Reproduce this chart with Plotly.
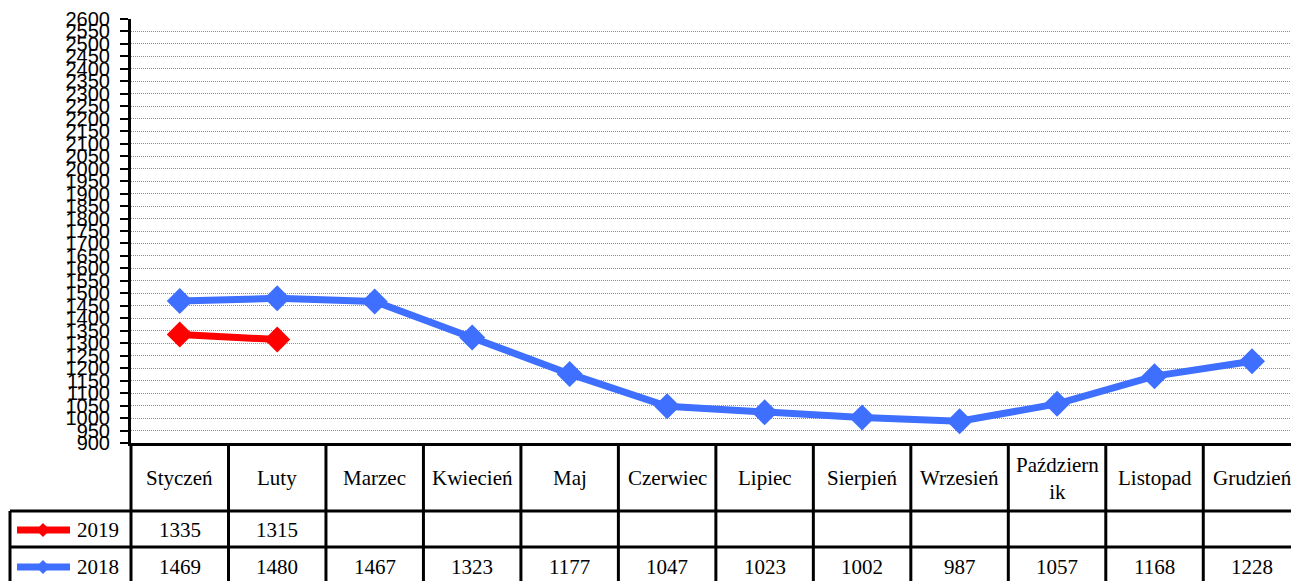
import plotly.graph_objects as go

months = ["Styczeń", "Luty", "Marzec", "Kwiecień", "Maj", "Czerwiec", "Lipiec",
          "Sierpień", "Wrzesień", "Październ<br>ik", "Listopad", "Grudzień"]
series_names = ["2019", "2018"]
values_2019 = [1335, 1315]
values_2018 = [1469, 1480, 1467, 1323, 1177, 1047, 1023, 1002, 987, 1057, 1168, 1228]
series_colors = ["#ff0000", "#3f6fff"]

W, H = 1291, 581
L, T, B = 131, 19, 138
PW, PH = W - L, H - T - B


def py(Y):
    return (T + PH - Y) / PH


def px(X):
    return (X - L) / PW


fig = go.Figure()
x_idx = list(range(len(months)))
for name, vals, col in [("2018", values_2018, series_colors[1]), ("2019", values_2019, series_colors[0])]:
    fig.add_trace(go.Scatter(
        x=x_idx[:len(vals)], y=vals, mode="lines+markers", name=name,
        line=dict(color=col, width=7),
        marker=dict(symbol="diamond", size=20, color=col, line=dict(width=0)),
        showlegend=False, cliponaxis=False))

shapes = []
blk = dict(color="black", width=3)
for Y in [511, 547]:
    shapes.append(dict(type="line", xref="paper", yref="paper", x0=px(10), x1=1.0, y0=py(Y), y1=py(Y), line=blk))
for k in range(1, len(months)):
    shapes.append(dict(type="line", xref="x", yref="paper", x0=k - 0.5, x1=k - 0.5, y0=0, y1=py(H + 5), line=blk))
shapes.append(dict(type="line", xref="paper", yref="paper", x0=0, x1=0, y0=0, y1=py(H + 5), line=blk))
shapes.append(dict(type="line", xref="paper", yref="paper", x0=px(10), x1=px(10), y0=py(511), y1=py(H + 5), line=blk))

serif = dict(family="Liberation Serif", size=21, color="black")
ann = []
hdr_y = py(478)
row_y = [py(530), py(567)]
for i, m in enumerate(months):
    ann.append(dict(x=i, y=hdr_y, xref="x", yref="paper", text=m, showarrow=False,
                    xanchor="center", yanchor="middle", font=serif))
for r, vals in enumerate([values_2019, values_2018]):
    for i, v in enumerate(vals):
        ann.append(dict(x=i, y=row_y[r], xref="x", yref="paper", text=str(v), showarrow=False,
                        xanchor="center", yanchor="middle", font=serif))
    c = series_colors[r]
    yc = row_y[r]
    shapes.append(dict(type="line", xref="paper", yref="paper", x0=px(17), x1=px(70), y0=yc, y1=yc,
                       line=dict(color=c, width=7)))
    cx = px(43)
    dx, dy = 7 / PW, 7 / PH
    shapes.append(dict(type="path", xref="paper", yref="paper",
                       path=f"M {cx-dx} {yc} L {cx} {yc+dy} L {cx+dx} {yc} L {cx} {yc-dy} Z",
                       fillcolor=c, line=dict(color=c, width=0)))
    ann.append(dict(x=px(75), y=yc, xref="paper", yref="paper", xanchor="left", yanchor="middle",
                    text=series_names[r], showarrow=False, font=serif))

fig.update_layout(
    width=W, height=H,
    margin=dict(l=L, r=0, t=T, b=B, pad=0),
    paper_bgcolor="white", plot_bgcolor="white",
    shapes=shapes, annotations=ann,
    xaxis=dict(range=[-0.5, 11.4], showticklabels=False, showgrid=False, zeroline=False,
               showline=True, linecolor="black", linewidth=3, ticks="", fixedrange=True),
    yaxis=dict(range=[900, 2600], dtick=50, tick0=900, showgrid=True, gridcolor="#8c8c8c",
               griddash="1px,1px", gridwidth=1, zeroline=False, showline=True, linecolor="black",
               linewidth=3, ticks="outside", ticklen=8, tickwidth=2, tickcolor="black",
               tickfont=dict(family="Liberation Sans", size=20, color="black"), ticklabelstandoff=6),
)
fig.write_html("out.html", config={"displayModeBar": False},
               post_script="document.body.style.margin='0px';")
